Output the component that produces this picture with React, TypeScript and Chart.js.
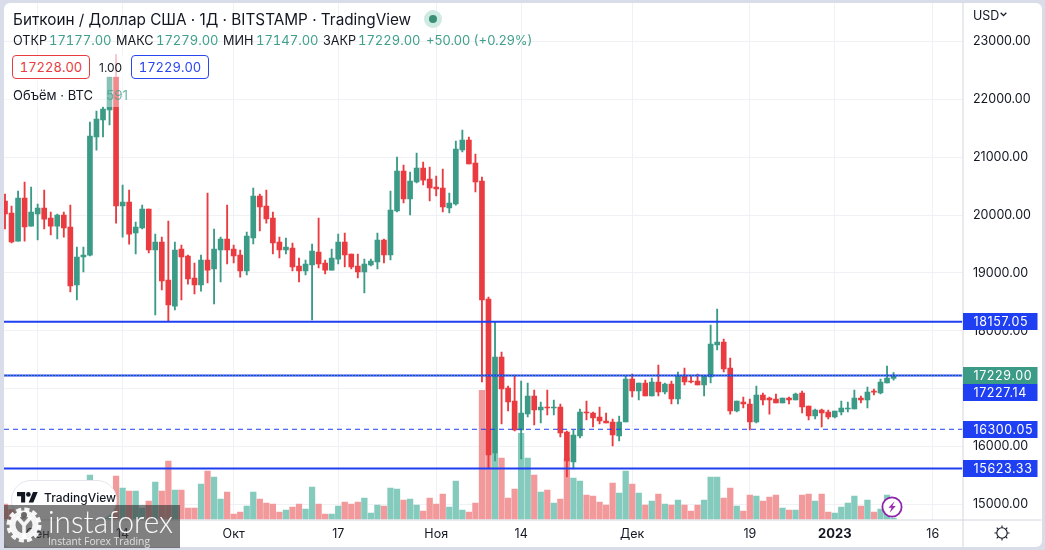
import React, { useEffect, useRef } from "react";
import { Chart, registerables } from "chart.js";

Chart.register(...registerables);

const opens = [
  20243,20036,19552,20295,19811,20019,20122,19950,19811,20001,
  19794,18792,19276,19310,21349,21643,21816,22386,20157,20226,
  19691,19777,20105,19397,19535,18878,18429,19414,19293,18913,
  18792,19224,19069,19397,19587,19414,19310,19034,19604,20330,
  20157,19950,19535,19397,19432,19121,19034,19138,19362,19172,
  19051,19241,19535,19328,19121,19017,19138,19190,19570,19311,
  20071,20762,20278,20572,20814,20624,20485,20468,20123,20192,
  21125,21297,20900,20589,18551,15890,17548,17013,16788,16287,
  16564,16875,16633,16685,16667,16685,16253,15734,16184,16598,
  16581,16512,16443,16425,16184,16425,17168,16961,17099,16875,
  17117,16944,17082,16823,17220,17134,17134,17065,17203,17756,
  17807,17358,16615,16771,16736,16425,16892,16840,16823,16754,
  16840,16805,16926,16702,16529,16633,16598,16512,16598,16650,
  16650,16840,16805,16961,16926,17099,17177,
];
const closes = [
  20019,19535,20295,19794,20053,20122,19932,19811,20001,19777,
  18775,19276,19310,21366,21660,21833,22386,20157,20226,19673,
  19794,20105,19397,19535,18861,18447,19397,19276,18896,18792,
  19224,19051,19414,19587,19397,19293,19034,19639,20330,20140,
  19933,19518,19397,19449,19103,19034,19155,19380,19155,19051,
  19259,19535,19311,19103,19017,19155,19207,19570,19311,20088,
  20762,20278,20589,20814,20606,20468,20451,20140,20209,21142,
  21297,20883,20572,18533,15855,17548,16996,16771,16287,16581,
  16875,16633,16685,16667,16685,16235,15752,16201,16598,16581,
  16495,16443,16408,16201,16425,17168,16961,17099,16875,17117,
  16944,17082,16823,17220,17117,17117,17065,17220,17773,17807,
  17341,16615,16788,16736,16425,16892,16805,16805,16754,16840,
  16805,16909,16684,16529,16633,16581,16512,16615,16667,16667,
  16840,16805,16943,16943,17116,17185,17229,
];
const highs = [
  20364,20157,20416,20572,20485,20191,20433,20053,20019,20053,
  20174,19449,19449,21608,21798,21867,22386,22766,20520,20433,
  19881,20174,20105,19673,19621,19898,19535,19483,19310,19172,
  19310,20382,19760,19621,20174,19483,19397,19708,20468,20365,
  20434,20054,19622,19604,19518,19259,19224,19501,19950,19224,
  19414,19673,19691,19328,19328,19241,19241,19691,19587,20416,
  21004,20866,20745,21073,20917,20831,20675,20796,20382,21280,
  21470,21349,21056,20658,18585,18153,17635,17047,17237,17134,
  17099,16978,16771,16978,16806,16736,16270,16287,16650,16788,
  16598,16685,16581,16477,16529,17220,17255,17099,17151,17186,
  17410,17099,17134,17289,17358,17220,17255,17220,18101,18377,
  17859,17531,16788,16857,16823,17047,16926,16857,16909,16840,
  16857,16926,16961,16702,16650,16650,16633,16615,16788,16771,
  16978,16874,17030,16995,17168,17393,17279,
];
const lows = [
  19760,19518,19552,19552,19811,19570,19760,19656,19587,19621,
  18671,18533,19017,19293,21124,21349,21557,19863,19621,19500,
  19328,19760,19345,18274,18706,18170,18360,18533,18809,18637,
  18688,18827,18464,18844,19155,19172,18930,18965,19501,19725,
  19863,19328,19259,19328,19034,18844,18965,18188,19086,18982,
  19051,19155,19103,19069,18913,18654,19121,19069,19172,19224,
  20054,20209,20002,20555,20520,20244,20330,20054,20036,20174,
  21090,20883,20399,17116,15631,15752,16391,16615,16270,15786,
  16512,16374,16408,16546,16546,16166,15475,15613,16149,16460,
  16339,16391,16408,16011,16097,16425,16857,16806,16875,16875,
  16875,16909,16736,16736,17065,17099,17065,16875,17099,17669,
  17289,16563,16598,16667,16287,16408,16719,16563,16754,16754,
  16736,16805,16581,16460,16477,16339,16477,16494,16546,16598,
  16650,16754,16667,16892,16909,17099,17147,
];
const volumes = [
  6900,4500,3600,4500,3900,4500,3300,4200,3600,3900,
  4500,3300,3900,19950,6000,5400,6000,19500,14100,12750,
  12750,5100,8250,16800,12750,26250,13200,13200,5100,5100,
  15900,21750,19050,9150,12300,2400,3300,6000,12300,9150,
  7350,6900,3300,4200,5550,6900,4650,14550,6900,2400,
  2400,6000,7800,6900,7800,9600,2850,6450,6000,14100,
  13650,8700,9150,6450,3750,9600,6900,11400,5550,17250,
  4200,3300,7350,58050,40500,29700,27600,9600,13650,38700,
  27600,19950,12300,13200,7350,9150,27600,18600,17250,10950,
  10500,7800,6450,16350,11850,21750,15900,11850,6450,8250,
  11400,6900,6450,8700,6450,3750,6450,8700,19050,19050,
  9600,14100,6000,3750,10950,10500,8250,10050,10950,5100,
  4200,4200,10950,11400,8250,11400,3300,2850,5550,7350,
  10500,6000,8700,3300,4650,10950,591,
];

const priceTicks = [15000, 16000, 17000, 18000, 19000, 20000, 21000, 22000, 23000];
const timeTickIndex = [5, 18, 35, 51, 66, 79, 96, 114, 127, 142];
const timeTickLabels = ["Сен", "14", "Окт", "17", "Ноя", "14", "Дек", "19", "2023", "16"];

const levelTop = 18157.05;
const levelMid = 17227.14;
const levelDash = 16300.05;
const levelLow = 15623.33;
const lastPrice = 17229.0;

const UP = "#3b9b87";
const DOWN = "#e93b40";
const VOL_UP = "#84cabd";
const VOL_DOWN = "#f29a9b";
const BLUE = "#1f3ff2";
const INK = "#131722";
const GRID = "#f0f1f4";
const FRAME = "#d3d6de";
const FONT = "Inter, 'Noto Sans', sans-serif";

const X_MIN = -0.153;
const X_MAX = 146.55;
const Y_MIN = 14741;
const Y_MAX = 23665;
const VOL_MAX = 232200;

const tagPlugin = {
  id: "priceTags",
  afterDraw(chart: any) {
    const { ctx, chartArea, scales, width, height } = chart;
    const y = scales.y;
    // axis frame lines run past the plot into the card's corner
    ctx.save();
    ctx.strokeStyle = FRAME;
    ctx.lineWidth = 1;
    ctx.beginPath();
    ctx.moveTo(chartArea.left, chartArea.bottom + 0.5);
    ctx.lineTo(width - 3.5, chartArea.bottom + 0.5);
    ctx.moveTo(chartArea.right + 0.5, chartArea.top);
    ctx.lineTo(chartArea.right + 0.5, height - 3);
    ctx.stroke();

    const tags = [
      { v: levelTop, bg: BLUE },
      { v: lastPrice, bg: UP },
      { v: levelMid, bg: BLUE },
      { v: levelDash, bg: BLUE },
      { v: levelLow, bg: BLUE },
    ];
    let prevBottom = -Infinity;
    ctx.font = `12.5px ${FONT}`;
    if ("letterSpacing" in ctx) (ctx as any).letterSpacing = "0.6px";
    ctx.textAlign = "left";
    ctx.textBaseline = "middle";
    const left = chartArea.right + 0.5;
    tags.forEach((t) => {
      let top = Math.round(y.getPixelForValue(t.v) - 8.5);
      if (top < prevBottom) top = prevBottom;
      ctx.fillStyle = t.bg;
      ctx.fillRect(left, top, 74.5, 17);
      ctx.fillStyle = "#ffffff";
      ctx.fillText(t.v.toFixed(2), left + 10.5, top + 9);
      prevBottom = top + 17;
    });
    ctx.restore();
  },
};

const abs = (l: number, t: number, extra: any = {}): any => ({
  position: "absolute",
  left: l,
  top: t,
  whiteSpace: "nowrap",
  ...extra,
});

export default function App() {
  const ref = useRef<HTMLCanvasElement | null>(null);

  useEffect(() => {
    const index = closes.map((_, i) => i);
    const isUp = (i: number) => closes[i] >= opens[i];
    const level = (v: number) => [
      { x: X_MIN, y: v },
      { x: X_MAX, y: v },
    ];
    const lineBase = { type: "line", pointRadius: 0, fill: false, yAxisID: "y", tension: 0 };
    const chart = new Chart(ref.current as HTMLCanvasElement, {
      type: "bar",
      data: {
        datasets: [
          {
            type: "bar",
            label: "Объём",
            yAxisID: "y2",
            order: 6,
            grouped: false,
            barThickness: 5.6,
            data: index.map((i) => ({ x: i, y: volumes[i] })),
            backgroundColor: index.map((i) => (isUp(i) ? VOL_UP : VOL_DOWN)),
          },
          {
            type: "bar",
            label: "Тени",
            yAxisID: "y",
            order: 5,
            grouped: false,
            barThickness: 1.2,
            data: index.map((i) => ({ x: i, y: [lows[i], highs[i]] })),
            backgroundColor: index.map((i) => (isUp(i) ? UP : DOWN)),
          },
          {
            type: "bar",
            label: "Свечи",
            yAxisID: "y",
            order: 4,
            grouped: false,
            barThickness: 5,
            data: index.map((i) => ({ x: i, y: [opens[i], closes[i]] })),
            backgroundColor: index.map((i) => (isUp(i) ? UP : DOWN)),
          },
          { ...lineBase, label: "18157.05", order: 3, data: level(levelTop), borderColor: BLUE, borderWidth: 2 },
          { ...lineBase, label: "17227.14", order: 3, data: level(levelMid), borderColor: BLUE, borderWidth: 2 },
          { ...lineBase, label: "16300.05", order: 3, data: level(levelDash), borderColor: BLUE, borderWidth: 1, borderDash: [5, 4] },
          { ...lineBase, label: "15623.33", order: 3, data: level(levelLow), borderColor: BLUE, borderWidth: 2 },
          { ...lineBase, label: "17229.00", order: 2, data: level(lastPrice), borderColor: UP, borderWidth: 1, borderDash: [1, 2] },
        ] as any,
      },
      options: {
        animation: false,
        responsive: false,
        events: [],
        layout: { padding: { left: 4, top: 3, right: 3.5, bottom: 3 } },
        plugins: { legend: { display: false }, tooltip: { enabled: false } },
        scales: {
          x: {
            type: "linear",
            offset: false,
            min: X_MIN,
            max: X_MAX,
            afterBuildTicks(scale: any) {
              scale.ticks = timeTickIndex.map((value) => ({ value }));
            },
            afterFit(scale: any) {
              scale.height = 27.5;
              scale.paddingLeft = 0;
              scale.paddingRight = 0;
            },
            grid: { color: GRID, drawTicks: false, offset: false },
            border: { display: false },
            ticks: {
              autoSkip: false,
              maxRotation: 0,
              padding: 7,
              color: INK,
              font: (c: any) => ({
                family: FONT,
                size: c.tick && c.tick.value === 127 ? 13 : 12.5,
                weight: c.tick && c.tick.value === 127 ? "bold" : "normal",
              }),
              callback: (v: any) => timeTickLabels[timeTickIndex.indexOf(v)] ?? "",
            },
          },
          y: {
            type: "linear",
            position: "right",
            min: Y_MIN,
            max: Y_MAX,
            afterBuildTicks(scale: any) {
              scale.ticks = priceTicks.map((value) => ({ value }));
            },
            afterFit(scale: any) {
              scale.width = 79;
              scale.paddingTop = 0;
              scale.paddingBottom = 0;
            },
            grid: { color: GRID, drawTicks: false },
            border: { display: false },
            ticks: {
              padding: 10.5,
              color: INK,
              font: { family: FONT, size: 12.5 },
              callback: (v: any) => Number(v).toFixed(2),
            },
          },
          y2: {
            type: "linear",
            display: false,
            min: 0,
            max: VOL_MAX,
          },
        },
      } as any,
      plugins: [tagPlugin as any],
    });
    return () => chart.destroy();
  }, []);

  const label = { font: `12.7px ${FONT}`, color: INK, lineHeight: "17px" };
  const value = { font: `13px ${FONT}`, color: "#3f9f8b", lineHeight: "17px", fontVariantNumeric: "tabular-nums" };
  const button = { width: 78, height: 24, boxSizing: "border-box", borderRadius: 4, font: `13px ${FONT}`, lineHeight: "22px", textAlign: "center", background: "#fff", fontVariantNumeric: "tabular-nums" };

  return (
    <div style={{ position: "fixed", left: 0, top: 0, width: 1045, height: 550, background: "#d8dde9", overflow: "hidden", fontFamily: FONT }}>
      <div style={abs(4, 3, { width: 1037.5, height: 544, background: "#fff", borderRadius: 6 })} />
      <canvas ref={ref} width={1045} height={550} style={{ position: "absolute", left: 0, top: 0, width: 1045, height: 550 }} />

      {/* translucent legend rows above the candles */}
      <div style={abs(4, 55, { width: 206, height: 22, background: "rgba(255,255,255,0.7)" })} />
      <div style={abs(4, 77, { width: 135, height: 30, background: "rgba(255,255,255,0.4)" })} />

      <div style={abs(13, 10, { font: `15.3px ${FONT}`, color: INK, lineHeight: "20px" })}>
        Биткоин / Доллар США · 1Д · BITSTAMP · TradingView
      </div>
      <div style={abs(424, 10, { width: 18, height: 18, borderRadius: 9, background: "#cfe9e3" })} />
      <div style={abs(429, 15, { width: 8, height: 8, borderRadius: 4, background: "#3b8f76" })} />

      {[
        ["ОТКР", 13, "17177.00", 49],
        ["МАКС", 116, "17279.00", 156],
        ["МИН", 223, "17147.00", 256],
        ["ЗАКР", 323, "17229.00", 358],
      ].map(([k, kx, v, vx]: any) => (
        <React.Fragment key={k}>
          <div style={abs(kx, 32, label)}>{k}</div>
          <div style={abs(vx, 32, value)}>{v}</div>
        </React.Fragment>
      ))}
      <div style={abs(426, 32, { ...value, fontVariantNumeric: "normal" })}>+50.00 (+0.29%)</div>

      <div style={abs(12, 55, { ...button, border: "1px solid #e93b40", color: "#e93b40" })}>17228.00</div>
      <div style={abs(99, 60, { font: `12px ${FONT}`, color: INK, lineHeight: "16px" })}>1.00</div>
      <div style={abs(131, 55, { ...button, border: "1px solid #2a46f0", color: "#2a46f0" })}>17229.00</div>
      <div style={abs(13, 87, { font: `13px ${FONT}`, color: INK, lineHeight: "17px" })}>Объём · BTC</div>
      <div style={abs(106, 87, { font: `13.5px ${FONT}`, color: "rgba(63,159,139,0.75)", lineHeight: "17px" })}>591</div>

      <div style={abs(973, 8, { font: `12.5px ${FONT}`, color: INK, lineHeight: "16px" })}>USD</div>
      <svg style={abs(1000, 12)} width="7" height="5" viewBox="0 0 7 5">
        <path d="M0.7 0.8 L3.5 3.6 L6.3 0.8" fill="none" stroke={INK} strokeWidth="1.3" />
      </svg>

      {/* TradingView badge */}
      <div style={abs(11, 480, { width: 106, height: 40, boxSizing: "border-box", borderRadius: 20, border: "1px solid #e4e6eb", background: "#fff" })} />
      <svg style={abs(17, 492)} width="21" height="11" viewBox="0 0 36 18.5">
        <path d="M14 18H7V7H0V0h14v18zM28 18h-8L27.5 0h8L28 18z" fill={INK} />
        <circle cx="19.5" cy="4" r="4" fill={INK} />
      </svg>
      <div style={abs(44, 490, { font: `500 12px ${FONT}`, color: INK, lineHeight: "16px" })}>TradingView</div>

      {/* Lightning badge */}
      <svg style={abs(881, 496)} width="22" height="22" viewBox="0 0 22 22">
        <circle cx="11" cy="11" r="9.6" fill="#fff" stroke="#8e24aa" strokeWidth="1.8" />
        <path d="M13.6 5.2 L7.4 11.8 H10.6 L8.6 16.8 L14.8 10 H11.4 Z" fill="#9c27b0" />
      </svg>

      {/* Theme icon */}
      <svg style={abs(994, 525)} width="16" height="16" viewBox="0 0 16 16">
        <circle cx="8" cy="8" r="5.2" fill="none" stroke={INK} strokeWidth="1.1" />
        <path d="M8 0.5V2.8M8 13.2V15.5M0.5 8H2.8M13.2 8H15.5M2.7 2.7L4.3 4.3M11.7 11.7L13.3 13.3M2.7 13.3L4.3 11.7M11.7 4.3L13.3 2.7" stroke={INK} strokeWidth="1.1" />
      </svg>

      {/* Instaforex watermark */}
      <div style={abs(4, 505, { width: 176, height: 43, background: "rgba(60,60,60,0.65)" })} />
      <svg style={abs(4, 503)} width="176" height="45" viewBox="0 0 176 45">
        <circle cx="20" cy="22" r="11.5" fill="none" stroke="rgba(255,255,255,0.92)" strokeWidth="6" />
        <circle cx="20" cy="22" r="15.5" fill="none" stroke="rgba(255,255,255,0.92)" strokeWidth="4" strokeDasharray="5 3.1" />
        <path d="M13 14 L20 22 L27 14 M20 22 V36" fill="none" stroke="rgba(255,255,255,0.92)" strokeWidth="3.6" />
        <circle cx="20" cy="12" r="3" fill="rgba(90,90,90,0.9)" />
        <text x="44" y="29.5" fontFamily="Lato, 'Open Sans', sans-serif" fontWeight="300" fontSize="31" fill="rgba(255,255,255,0.95)" textLength="125" lengthAdjust="spacingAndGlyphs">instaforex</text>
        <text x="44" y="41.5" fontFamily="'Open Sans', sans-serif" fontSize="10.5" fill="rgba(255,255,255,0.75)" textLength="102" lengthAdjust="spacingAndGlyphs">Instant Forex Trading</text>
      </svg>
    </div>
  );
}
